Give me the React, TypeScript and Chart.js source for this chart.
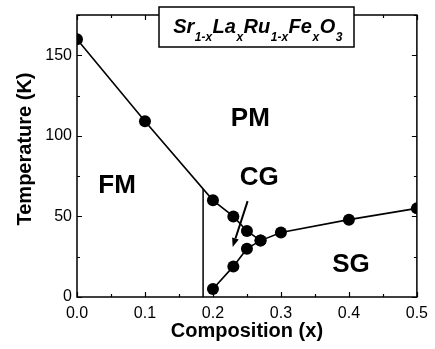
import React, { useEffect, useRef } from "react";
import { Chart, registerables } from "chart.js";

Chart.register(...registerables);

const upperX = [0, 0.1, 0.2, 0.23, 0.25, 0.27];
const upperY = [160, 109, 60, 50, 41, 35];
const lowerX = [0.2, 0.23, 0.25, 0.27, 0.3, 0.4, 0.5];
const lowerY = [5, 19, 30, 35, 40, 48, 55];
const boundaryX = [0.1855, 0.1855];
const boundaryY = [0, 67];
const arrowFrom = [0.251, 59.5];
const arrowTo = [0.229, 31];
const regionLabels = ["PM", "FM", "CG", "SG"];
const regionX = [0.255, 0.059, 0.268, 0.403];
const regionY = [110.5, 69, 74, 20];
const xTickValues = [0, 0.1, 0.2, 0.3, 0.4, 0.5];
const yTickValues = [0, 50, 100, 150];

const FONT = "'Liberation Sans', Arial, sans-serif";

export default function App() {
  const ref = useRef<HTMLCanvasElement | null>(null);
  useEffect(() => {
    document.body.style.margin = "0";
    const canvas = ref.current!;
    const overlay = {
      id: "overlay",
      afterDraw(chart: any) {
        const ctx = chart.ctx as CanvasRenderingContext2D;
        const xs = chart.scales.x;
        const ys = chart.scales.y;
        const a = chart.chartArea;
        ctx.save();
        ctx.strokeStyle = "#000";
        ctx.fillStyle = "#000";
        // frame
        ctx.lineWidth = 1.5;
        ctx.strokeRect(a.left, a.top, a.right - a.left, a.bottom - a.top);
        // ticks
        ctx.lineWidth = 1.2;
        for (let i = 0; i <= 10; i++) {
          const v = i * 0.05;
          const px = Math.round(xs.getPixelForValue(v)) + 0.5;
          const len = i % 2 === 0 ? 5 : 3;
          ctx.beginPath();
          ctx.moveTo(px, a.bottom);
          ctx.lineTo(px, a.bottom - len);
          ctx.moveTo(px, a.top);
          ctx.lineTo(px, a.top + len);
          ctx.stroke();
        }
        for (let v = 0; v <= 175; v += 25) {
          const py = Math.round(ys.getPixelForValue(v)) + 0.5;
          const len = v % 50 === 0 ? 5 : 3;
          ctx.beginPath();
          ctx.moveTo(a.left, py);
          ctx.lineTo(a.left + len, py);
          ctx.moveTo(a.right, py);
          ctx.lineTo(a.right - len, py);
          ctx.stroke();
        }
        // vertical boundary
        ctx.lineWidth = 1.5;
        ctx.beginPath();
        ctx.moveTo(xs.getPixelForValue(boundaryX[0]), ys.getPixelForValue(boundaryY[0]));
        ctx.lineTo(xs.getPixelForValue(boundaryX[1]), ys.getPixelForValue(boundaryY[1]));
        ctx.stroke();
        // arrow
        const x1 = xs.getPixelForValue(arrowFrom[0]);
        const y1 = ys.getPixelForValue(arrowFrom[1]);
        const x2 = xs.getPixelForValue(arrowTo[0]);
        const y2 = ys.getPixelForValue(arrowTo[1]);
        const ang = Math.atan2(y2 - y1, x2 - x1);
        const hl = 9, hw = 3.5;
        const bx = x2 - hl * Math.cos(ang);
        const by = y2 - hl * Math.sin(ang);
        ctx.lineWidth = 2;
        ctx.beginPath();
        ctx.moveTo(x1, y1);
        ctx.lineTo(bx, by);
        ctx.stroke();
        ctx.beginPath();
        ctx.moveTo(x2, y2);
        ctx.lineTo(bx + hw * Math.sin(ang), by - hw * Math.cos(ang));
        ctx.lineTo(bx - hw * Math.sin(ang), by + hw * Math.cos(ang));
        ctx.closePath();
        ctx.fill();
        // region labels
        ctx.font = `bold 26px ${FONT}`;
        ctx.textAlign = "center";
        ctx.textBaseline = "middle";
        regionLabels.forEach((t, i) => {
          ctx.fillText(t, xs.getPixelForValue(regionX[i]), ys.getPixelForValue(regionY[i]));
        });
        // axis titles
        ctx.font = `bold 20px ${FONT}`;
        ctx.fillText("Composition (x)", (a.left + a.right) / 2, 331);
        ctx.save();
        ctx.translate(25, (a.top + a.bottom) / 2 - 7);
        ctx.rotate(-Math.PI / 2);
        ctx.fillText("Temperature (K)", 0, 0);
        ctx.restore();
        // title box
        const bx0 = 159, by0 = 7, bw = 195, bh = 40;
        ctx.fillStyle = "#fff";
        ctx.fillRect(bx0, by0, bw, bh);
        ctx.lineWidth = 1.5;
        ctx.strokeRect(bx0, by0, bw, bh);
        ctx.fillStyle = "#000";
        const parts: [string, boolean][] = [
          ["Sr", false], ["1-x", true], ["La", false], ["x", true],
          ["Ru", false], ["1-x", true], ["Fe", false], ["x", true],
          ["O", false], ["3", true],
        ];
        const mainFont = `italic bold 20px ${FONT}`;
        const subFont = `italic bold 12px ${FONT}`;
        let total = 0;
        parts.forEach(([t, sub]) => {
          ctx.font = sub ? subFont : mainFont;
          total += ctx.measureText(t).width + (sub ? 1 : 0);
        });
        let cx = 258 - total / 2;
        ctx.textAlign = "left";
        ctx.textBaseline = "alphabetic";
        parts.forEach(([t, sub]) => {
          ctx.font = sub ? subFont : mainFont;
          ctx.fillText(t, cx + (sub ? 0.5 : 0), sub ? 41 : 33);
          cx += ctx.measureText(t).width + (sub ? 1 : 0);
        });
        ctx.restore();
      },
    };

    const chart = new Chart(canvas, {
      type: "scatter",
      data: {
        datasets: [
          {
            data: upperX.map((x, i) => ({ x, y: upperY[i] })),
            showLine: true,
            borderColor: "#000",
            backgroundColor: "#000",
            borderWidth: 1.6,
            pointRadius: 6,
            pointBackgroundColor: "#000",
            pointBorderWidth: 0,
          },
          {
            data: lowerX.map((x, i) => ({ x, y: lowerY[i] })),
            showLine: true,
            borderColor: "#000",
            backgroundColor: "#000",
            borderWidth: 1.6,
            pointRadius: 6,
            pointBackgroundColor: "#000",
            pointBorderWidth: 0,
          },
        ],
      },
      options: {
        animation: false,
        responsive: false,
        devicePixelRatio: 1,
        layout: { padding: { top: 15, right: 13, left: 0, bottom: 0 } },
        plugins: { legend: { display: false }, tooltip: { enabled: false } },
        scales: {
          x: {
            type: "linear",
            min: 0,
            max: 0.5,
            grid: { display: false, drawTicks: false },
            border: { display: false },
            afterFit: (s: any) => { s.height = 52; },
            afterBuildTicks: (s: any) => { s.ticks = xTickValues.map((v) => ({ value: v })); },
            ticks: {
              padding: 7,
              color: "#000",
              font: { family: FONT, size: 16 },
              callback: (v: any) => Number(v).toFixed(1),
            },
          },
          y: {
            type: "linear",
            min: 0,
            max: 175,
            grid: { display: false, drawTicks: false },
            border: { display: false },
            afterFit: (s: any) => { s.width = 77; },
            afterBuildTicks: (s: any) => { s.ticks = yTickValues.map((v) => ({ value: v })); },
            ticks: {
              padding: 5,
              color: "#000",
              font: { family: FONT, size: 16 },
              callback: (v: any) => String(v),
            },
          },
        },
      },
      plugins: [overlay],
    });
    return () => chart.destroy();
  }, []);
  return (
    <div style={{ width: 435, height: 349 }}>
      <canvas ref={ref} width={435} height={349} style={{ width: 435, height: 349, display: "block" }} />
    </div>
  );
}
